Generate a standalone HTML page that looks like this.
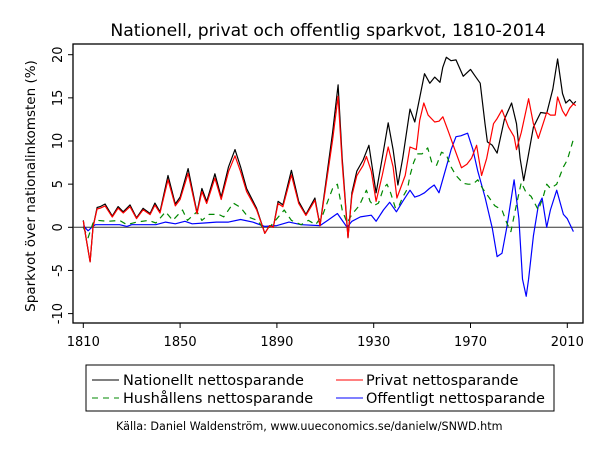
<!DOCTYPE html>
<html><head><meta charset="utf-8"><style>
html,body{margin:0;padding:0;background:#fff;}
svg{display:block;font-family:"DejaVu Sans","Liberation Sans",sans-serif;}
</style></head><body>
<svg id="s" width="605" height="456" viewBox="0 0 605 456" xmlns="http://www.w3.org/2000/svg">
<rect width="605" height="456" fill="#fff"/>
<text x="328" y="36" font-size="17.2" text-anchor="middle" fill="#000">Nationell, privat och offentlig sparkvot, 1810-2014</text>
<rect x="73" y="44" width="510" height="279" fill="none" stroke="#000" stroke-width="1.3"/>
<g id="yt" font-size="13" fill="#000"></g>
<g id="xt" font-size="13" fill="#000"></g>
<text transform="translate(35,186) rotate(-90)" font-size="13.5" text-anchor="middle" fill="#000">Sparkvot över nationalinkomsten (%)</text>
<line x1="73" y1="227.3" x2="583" y2="227.3" stroke="#333" stroke-width="1"/>
<g id="ser" fill="none" stroke-width="1.2" stroke-linejoin="round"></g>
<rect x="86" y="365" width="468" height="46" fill="#fff" stroke="#000" stroke-width="1"/>
<line x1="92" y1="380" x2="119" y2="380" stroke="#000"/>
<text x="123" y="385" font-size="14.5">Nationellt nettosparande</text>
<line x1="336" y1="380" x2="363" y2="380" stroke="#f00"/>
<text x="366" y="385" font-size="14.5">Privat nettosparande</text>
<line x1="92" y1="398" x2="119" y2="398" stroke="#080" stroke-dasharray="6,5"/>
<text x="123" y="403" font-size="14.5">Hushållens nettosparande</text>
<line x1="336" y1="398" x2="363" y2="398" stroke="#00f"/>
<text x="366" y="403" font-size="14.5">Offentligt nettosparande</text>
<text x="116" y="430" font-size="11.2" fill="#000">Källa: Daniel Waldenström, www.uueconomics.se/danielw/SNWD.htm</text>
</svg>
<script>
var NS="http://www.w3.org/2000/svg";
function X(y){return 83.3+(y-1810)*2.42;}
function Y(v){return 227.3-v*8.63;}
function el(p,t,a,txt){var e=document.createElementNS(NS,t);for(var k in a)e.setAttribute(k,a[k]);if(txt!=null)e.textContent=txt;p.appendChild(e);return e;}
var yt=document.getElementById('yt');
for(var v=-10;v<=20;v+=5){var y=Y(v);el(yt,'line',{x1:68,y1:y,x2:73,y2:y,stroke:'#000'});
el(yt,'text',{transform:'translate(62,'+y+') rotate(-90)','text-anchor':'middle'},String(v));}
var xt=document.getElementById('xt');
[1810,1850,1890,1930,1970,2010].forEach(function(yr){var x=X(yr);el(xt,'line',{x1:x,y1:323,x2:x,y2:328,stroke:'#000'});el(xt,'text',{x:x,y:346,'text-anchor':'middle'},String(yr));});
var N=[1810,0.8,1811,-1,1812.8,-4,1814,0,1815.7,2.3,1817,2.4,1819,2.7,1822,1.3,1824.4,2.4,1826.5,1.8,1829.3,2.6,1832,1.1,1834.7,2.2,1837.6,1.6,1839.6,2.8,1841.7,1.8,1845,6,1848,2.7,1850,3.5,1853.3,6.8,1857,1.7,1859,4.5,1861,3,1864.4,6.2,1867,3.5,1870,7,1872.7,9,1875,7,1877.5,4.5,1881.6,2.2,1883,1,1885,-0.7,1887,0.2,1888.5,0,1890.5,3,1892.5,2.6,1896,6.6,1899,3,1902,1.5,1905.7,3.4,1907.8,0.2,1910.6,6,1913,11,1915.3,16.5,1917,8,1919.4,-1.2,1921,4,1923,6.5,1925.6,7.8,1928,9.5,1931,4,1933.5,8,1936,12.1,1938,9,1940,4.9,1942,8,1945,13.7,1947,12.2,1949,15,1951,17.8,1953.2,16.7,1955.2,17.4,1957.4,16.8,1958.5,18.5,1960,19.7,1962,19.3,1964,19.4,1967,17.5,1970,18.3,1972,17.5,1974,16.7,1976,12,1977,9.9,1979,9.5,1981,8.6,1984,12.5,1987,14.4,1989,12,1990.5,8,1992,5.4,1994,8.5,1996,11.6,1999,13.3,2001.5,13.2,2004,16,2006,19.5,2008,15.5,2009.4,14.4,2011,14.8,2012.5,14.3,2013.5,14.6];
var P=[];for(var i=0;i<N.length;i+=2){if(N[i]<1927){P.push(N[i],N[i+1]>0?N[i+1]*0.92:N[i+1]);}}
P=P.concat([1927,8.2,1929,6.5,1931,3,1933.5,6,1936,9.3,1938,7,1939.6,3.4,1943,6,1945,9.3,1947.6,9,1949,12.4,1950.7,14.4,1952.5,13,1955.2,12.2,1957,12.3,1958.6,12.8,1961,11,1963.5,9,1966.3,6.9,1968.5,7.3,1970.4,8,1972.5,9.5,1974.6,6,1976.7,8,1979.5,12,1981,12.6,1983,13.6,1985.7,11.6,1988,10.5,1989,9,1991,11,1994,14.9,1996,12,1998,10.3,2000,12,2001.5,13.3,2003,13,2005,13,2006,15.1,2008,13.5,2009.4,12.9,2011,13.8,2012.5,14.3,2013.5,14.1]);
var O=[1810,0.2,1812,-0.4,1813.5,0,1815,0.3,1820,0.3,1825,0.3,1828,0.1,1830,0.3,1840,0.3,1844,0.6,1848,0.4,1852,0.7,1855,0.4,1860,0.5,1865,0.6,1870,0.6,1875,0.9,1880,0.6,1885,0.1,1890,0.2,1895,0.6,1900,0.3,1907.8,0.2,1911,0.8,1915,1.6,1917,0.8,1919,0,1921,0.7,1924.5,1.2,1929,1.4,1931,0.7,1934,2,1936.6,2.9,1939.4,1.8,1942,3,1945,4.3,1947,3.5,1949,3.7,1951,4,1953,4.5,1955,4.9,1957,4,1960,7,1962,9,1964,10.5,1966,10.6,1968.8,10.9,1971,9,1973,6.5,1976,3.5,1979,-0.1,1981,-3.4,1983,-3,1985,0,1988,5.5,1990,1,1991.5,-6,1993,-8,1994,-6,1996,-1,1998,2.5,1999.6,3.4,2001.5,0,2003,2,2005.6,4.3,2008.4,1.5,2010,1,2012.5,-0.5];
var H=[1810,0,1812,-1.2,1814,0.5,1816,0.8,1820,0.7,1825,0.8,1828,0.3,1832,0.6,1837,0.8,1840,0.5,1844,1.8,1847,0.8,1851,2,1853,0.8,1857,1.8,1859,0.8,1862,1.5,1866,1.5,1868,1.2,1872,2.8,1875,2.3,1878,1.2,1882,0.8,1884,0,1887,0,1890,1,1893,2,1896,0.8,1900,0.3,1903,0.8,1906,0.3,1909,1.5,1911,3,1913,4.5,1915,5,1917,2,1919,0.5,1921,1.5,1924,2.5,1927,4.3,1928.5,3,1930,2.5,1932,2.8,1934,4.5,1935.5,5,1937,4,1939,2.2,1940.5,2.5,1942,3.5,1944,4.5,1945,6,1946.5,7.5,1948,8.5,1950,8.5,1952.3,9.2,1954,7.5,1956,7.2,1958,8.7,1960,8.4,1962,7,1964,6,1967,5.1,1969,5,1971,5,1973,5.5,1975,4.5,1977.8,3.4,1980,2.5,1983,2,1985,0.5,1986.7,-0.5,1988.5,2,1991,5.2,1993,4,1995,3.6,1998,2,2000,3.5,2001.5,5,2003,4.5,2005.6,5,2008.4,7,2010,7.8,2012.5,10.2];
var g=document.getElementById('ser');
function pl(d,c,dash){var pts=[];for(var i=0;i<d.length;i+=2)pts.push(X(d[i]).toFixed(1)+','+Y(d[i+1]).toFixed(1));var a={points:pts.join(' '),stroke:c};if(dash)a['stroke-dasharray']=dash;el(g,'polyline',a);}
pl(O,'#00f');pl(H,'#080','6,5');pl(N,'#000');pl(P,'#f00');
</script>
</body></html>
